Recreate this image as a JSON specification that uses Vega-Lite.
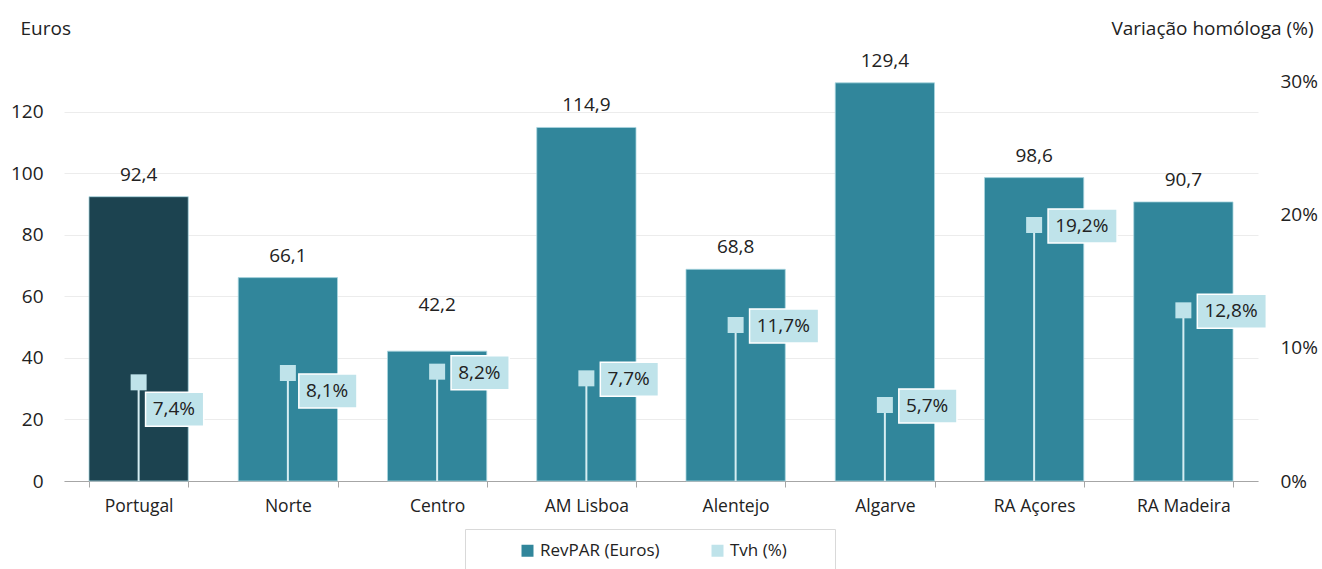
{
  "$schema": "https://vega.github.io/schema/vega-lite/v6.json",
  "width": 1194,
  "height": 400,
  "autosize": {"type": "none"},
  "padding": {"left": 64, "top": 81, "right": 64, "bottom": 88},
  "background": "white",
  "config": {
    "view": {"stroke": null},
    "font": "Open Sans",
    "locale": {"number": {"decimal": ",", "thousands": ".", "grouping": [3], "currency": ["", " €"]}}
  },
  "data": {
    "values": [
      {"regiao": "Portugal", "revpar": 92.4, "tvh": 0.074},
      {"regiao": "Norte", "revpar": 66.1, "tvh": 0.081},
      {"regiao": "Centro", "revpar": 42.2, "tvh": 0.082},
      {"regiao": "AM Lisboa", "revpar": 114.9, "tvh": 0.077},
      {"regiao": "Alentejo", "revpar": 68.8, "tvh": 0.117},
      {"regiao": "Algarve", "revpar": 129.4, "tvh": 0.057},
      {"regiao": "RA Açores", "revpar": 98.6, "tvh": 0.192},
      {"regiao": "RA Madeira", "revpar": 90.7, "tvh": 0.128}
    ]
  },
  "encoding": {
    "x": {
      "field": "regiao",
      "type": "nominal",
      "sort": null,
      "title": null,
      "scale": {"paddingInner": 0.335, "paddingOuter": 0.1675},
      "axis": {
        "labelAngle": 0,
        "labelFontSize": 17.5,
        "labelColor": "#222222",
        "labelFont": "Open Sans",
        "labelPadding": 10,
        "tickSize": 6,
        "tickColor": "#a6a6a6",
        "domainColor": "#a6a6a6",
        "tickBand": "extent",
        "grid": false
      }
    }
  },
  "layer": [
    {
      "encoding": {
        "y": {
          "field": "revpar",
          "type": "quantitative",
          "scale": {"domain": [0, 130], "nice": false},
          "axis": {
            "values": [0, 20, 40, 60, 80, 100, 120],
            "grid": true,
            "gridColor": "#ececec",
            "gridWidth": 1,
            "domain": false,
            "ticks": false,
            "labelPadding": 21,
            "labelFontSize": 19,
            "labelColor": "#222222",
            "labelFont": "Open Sans",
            "title": "Euros",
            "titleAngle": 0,
            "titleAlign": "left",
            "titleBaseline": "middle",
            "titleX": -44,
            "titleY": -53,
            "titleFontSize": 19,
            "titleFontWeight": "normal",
            "titleColor": "#222222",
            "titleFont": "Open Sans"
          }
        }
      },
      "layer": [
        {
          "mark": {"type": "bar", "stroke": "#a9d6e0", "strokeWidth": 0.8},
          "encoding": {
            "color": {
              "condition": {"test": "datum.regiao === 'Portugal'", "value": "#1c4350"},
              "datum": "RevPAR (Euros)",
              "type": "nominal",
              "scale": {"domain": ["RevPAR (Euros)", "Tvh (%)"], "range": ["#31869b", "#bfe3ea"]},
              "legend": {
                "title": "\u00a0",
                "titleOrient": "right",
                "titlePadding": 35,
                "orient": "none",
                "legendX": 401,
                "legendY": 448,
                "direction": "horizontal",
                "symbolType": "square",
                "symbolSize": 144,
                "symbolStrokeWidth": 0,
                "symbolOpacity": 1,
                "symbolOffset": 41,
                "labelOffset": 4,
                "columnPadding": 8,
                "labelFontSize": 17,
                "labelColor": "#222222",
                "labelFont": "Open Sans",
                "strokeColor": "#d9d9d9",
                "fillColor": "white",
                "padding": 13
              }
            }
          }
        },
        {
          "mark": {
            "type": "text",
            "dy": {"expr": "datum.regiao === 'Centro' ? -46 : -22"},
            "fontSize": 19,
            "color": "#222222",
            "baseline": "middle"
          },
          "encoding": {"text": {"field": "revpar", "type": "quantitative", "format": ".1f"}}
        }
      ]
    },
    {
      "encoding": {
        "y": {
          "field": "tvh",
          "type": "quantitative",
          "scale": {"domain": [0, 0.3], "nice": false},
          "axis": {
            "orient": "right",
            "values": [0, 0.1, 0.2, 0.3],
            "format": ".0%",
            "grid": false,
            "domain": false,
            "ticks": false,
            "labelPadding": 22,
            "labelFontSize": 19,
            "labelColor": "#222222",
            "labelFont": "Open Sans",
            "title": "Variação homóloga (%)",
            "titleAngle": 0,
            "titleAlign": "right",
            "titleBaseline": "middle",
            "titleX": 55,
            "titleY": -53,
            "titleFontSize": 19,
            "titleFontWeight": "normal",
            "titleColor": "#222222",
            "titleFont": "Open Sans"
          }
        }
      },
      "layer": [
        {
          "mark": {"type": "rule", "color": "#d6edf2", "strokeWidth": 2},
          "encoding": {"y2": {"datum": 0}}
        },
        {
          "mark": {"type": "point", "shape": "square", "filled": true, "size": 256, "opacity": 1},
          "encoding": {"color": {"datum": "Tvh (%)", "type": "nominal"}}
        },
        {
          "mark": {
            "type": "point",
            "filled": true,
            "opacity": 1,
            "size": 1156,
            "color": "#bfe3ea",
            "stroke": "white",
            "strokeWidth": 1.5,
            "xOffset": {"expr": "datum.regiao === 'Portugal' ? -7 : datum.regiao === 'Norte' ? -3 : 0"},
            "yOffset": {"expr": "datum.regiao === 'Portugal' ? 27 : datum.regiao === 'Norte' ? 18 : 1"}
          },
          "encoding": {
            "shape": {
              "condition": {"test": "datum.tvh >= 0.1", "value": "M0.82,-1H4.88V1H0.82Z"},
              "value": "M0.82,-1H4.24V1H0.82Z"
            }
          }
        },
        {
          "mark": {
            "type": "text",
            "align": "left",
            "baseline": "middle",
            "fontSize": 19,
            "color": "#222222",
            "dx": {"expr": "datum.regiao === 'Portugal' ? 14 : datum.regiao === 'Norte' ? 18 : 21"},
            "dy": {"expr": "datum.regiao === 'Portugal' ? 27 : datum.regiao === 'Norte' ? 18 : 1"}
          },
          "encoding": {"text": {"field": "tvh", "type": "quantitative", "format": ".1%"}}
        }
      ]
    }
  ],
  "resolve": {"scale": {"y": "independent"}}
}
